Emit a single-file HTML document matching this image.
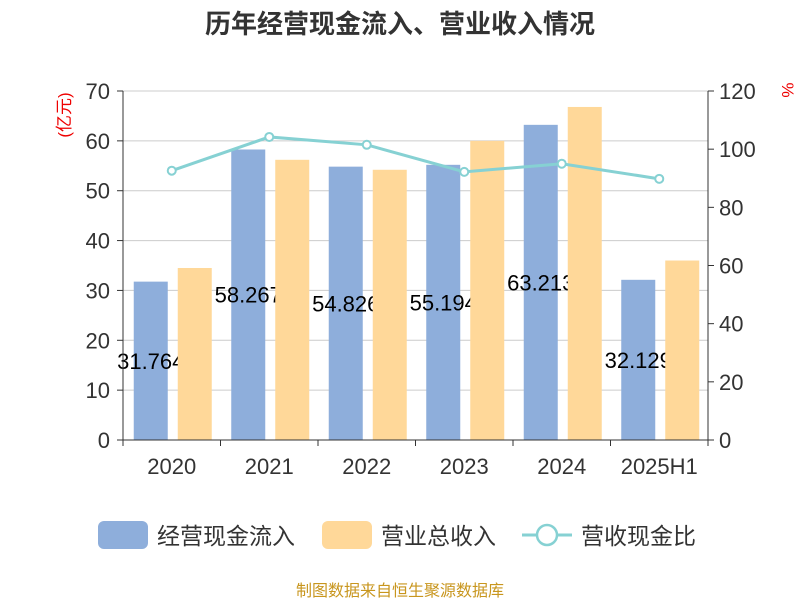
<!DOCTYPE html>
<html><head><meta charset="utf-8"><style>
body{margin:0;background:#fff;}
svg{display:block;font-family:"Liberation Sans","Noto Sans CJK SC",sans-serif;}
</style></head><body>
<svg id="c" width="800" height="600">
<text x="400" y="33" text-anchor="middle" font-size="26" font-weight="bold" fill="#333">历年经营现金流入、营业收入情况</text>
<text transform="translate(70,115) rotate(-90)" text-anchor="middle" font-size="17" fill="#e00">(亿元)</text>
<text transform="translate(782,90) rotate(90)" text-anchor="middle" font-size="17" fill="#e00">%</text>
<g id="grid"></g><g id="bars"></g><g id="axes"></g><g id="line"></g>
<g>
<rect x="98" y="521" width="50" height="28" rx="6" fill="#8eaedb"/>
<text x="157" y="544" font-size="23" fill="#333">经营现金流入</text>
<rect x="322" y="521" width="50" height="28" rx="6" fill="#ffd899"/>
<text x="381" y="544" font-size="23" fill="#333">营业总收入</text>
<line x1="522" y1="535" x2="572" y2="535" stroke="#86d1d3" stroke-width="3"/>
<circle cx="547" cy="535" r="10" fill="#fff" stroke="#86d1d3" stroke-width="2.5"/>
<text x="581" y="544" font-size="23" fill="#333">营收现金比</text>
</g>
<text x="400" y="596" text-anchor="middle" font-size="16" fill="#c8961e">制图数据来自恒生聚源数据库</text>
</svg>
<script>
const categories=["2020","2021","2022","2023","2024","2025H1"];
const cashIn=[31.764,58.267,54.826,55.194,63.213,32.129];
const revenue=[34.5,56.2,54.2,60.0,66.8,36.0];
const ratio=[92.6,104.2,101.5,92.2,95.0,89.8];
const leftTicks=[0,10,20,30,40,50,60,70];
const rightTicks=[0,20,40,60,80,100,120];
const NS="http://www.w3.org/2000/svg";
const X0=123,X1=708,Y0=440,Y1=91;
const band=(X1-X0)/categories.length;
const yL=v=>Y0-(v/70)*(Y0-Y1);
const yR=v=>Y0-(v/120)*(Y0-Y1);
const xC=i=>X0+band*(i+0.5);
function mk(p,tag,a){const e=document.createElementNS(NS,tag);for(const k in a)e.setAttribute(k,a[k]);document.getElementById(p).appendChild(e);return e;}
leftTicks.forEach(t=>{
 if(t>0){const g=mk('grid','line',{x1:X0,x2:X1,y1:yL(t),y2:yL(t),stroke:'#ccc','stroke-width':1});
 
 }
 const tx=mk('axes','text',{x:X0-13,y:yL(t)+8,'text-anchor':'end','font-size':22,fill:'#333'});tx.textContent=t;
 
 
 mk('axes','line',{x1:X0-6,x2:X0,y1:yL(t),y2:yL(t),stroke:'#333'});
});
rightTicks.forEach(t=>{
 const tx=mk('axes','text',{x:X1+11,y:yR(t)+8,'font-size':22,fill:'#333'});tx.textContent=t;
 
 
 mk('axes','line',{x1:X1,x2:X1+6,y1:yR(t),y2:yR(t),stroke:'#333'});
});
mk('axes','line',{x1:X0,x2:X0,y1:Y1,y2:Y0,stroke:'#333'});
mk('axes','line',{x1:X1,x2:X1,y1:Y1,y2:Y0,stroke:'#333'});
mk('axes','line',{x1:X0,x2:X1,y1:Y0,y2:Y0,stroke:'#333'});
categories.forEach((c,i)=>{
 mk('axes','line',{x1:X0+band*i,x2:X0+band*i,y1:Y0,y2:Y0+6,stroke:'#333'});
 const tx=mk('axes','text',{x:xC(i),y:Y0+34,'text-anchor':'middle','font-size':22,fill:'#333'});tx.textContent=c;
 
 
});
mk('axes','line',{x1:X1,x2:X1,y1:Y0,y2:Y0+6,stroke:'#333'});
categories.forEach((c,i)=>{
 const b=mk('bars','rect',{x:xC(i)-38,y:yL(cashIn[i]),width:34,height:Y0-yL(cashIn[i]),fill:'#8eaedb'});
 
 
 const l=mk('bars','text',{x:xC(i)-21,y:(yL(cashIn[i])+Y0)/2+8,'text-anchor':'middle','font-size':22,fill:'#000'});l.textContent=cashIn[i].toFixed(3);
 
 
});
categories.forEach((c,i)=>{
 const b=mk('bars','rect',{x:xC(i)+6,y:yL(revenue[i]),width:34,height:Y0-yL(revenue[i]),fill:'#ffd899'});
 
 
});
const pl=mk('line','polyline',{points:ratio.map((v,i)=>xC(i)+','+yR(v)).join(' '),fill:'none',stroke:'#86d1d3','stroke-width':3});


ratio.forEach((v,i)=>{
 const p=mk('line','circle',{cx:xC(i),cy:yR(v),r:4,fill:'#fff',stroke:'#86d1d3','stroke-width':2});
 
 
});
</script>
</body></html>
